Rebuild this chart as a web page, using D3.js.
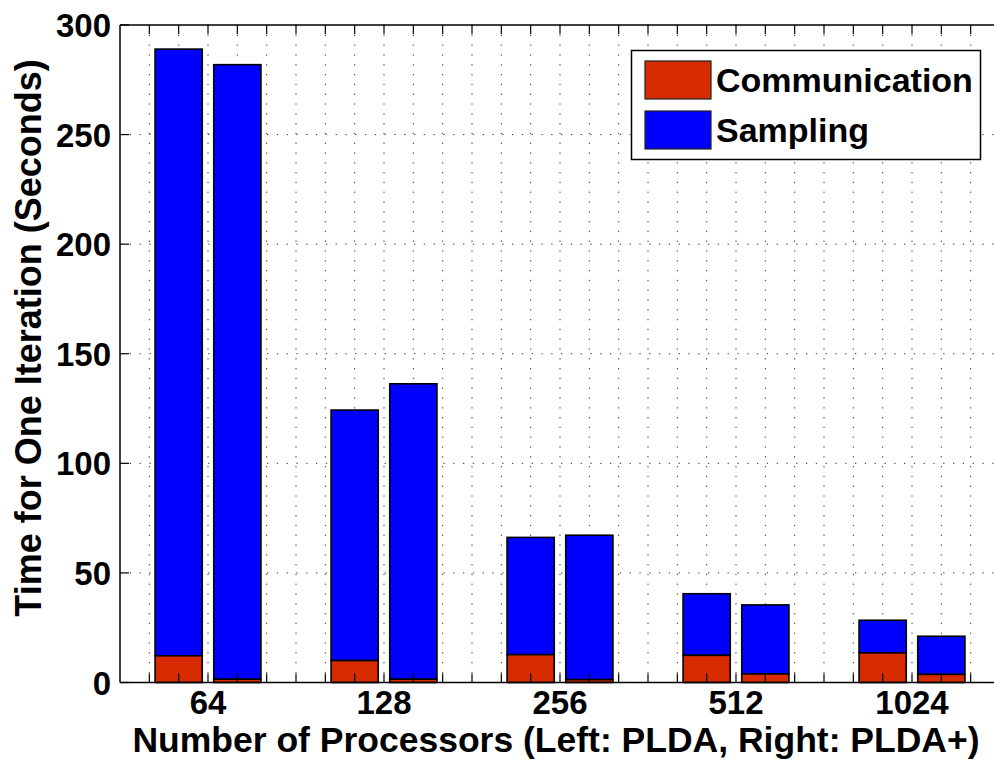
<!DOCTYPE html>
<html>
<head>
<meta charset="utf-8">
<script src="https://cdn.jsdelivr.net/npm/d3@7"></script>
<style>
  html, body { margin: 0; padding: 0; background: #fff; }
  svg { display: block; }
  text { font-family: "Liberation Sans", Arial, Helvetica, sans-serif; font-weight: bold; fill: #000; }
</style>
</head>
<body>
<svg id="chart" width="994" height="760"></svg>
<script>
// ---- data ----
const categories = ["64", "128", "256", "512", "1024"];
const seriesNames = ["Communication", "Sampling"];
// Left bars: PLDA
const pldaCommunication = [12.2, 10.0, 12.7, 12.4, 13.5];
const pldaSampling      = [276.8, 114.3, 53.5, 28.1, 14.9];
// Right bars: PLDA+
const pldaPlusCommunication = [1.5, 1.5, 1.3, 3.9, 3.7];
const pldaPlusSampling      = [280.4, 134.8, 65.9, 31.5, 17.4];
const yTicks = [0, 50, 100, 150, 200, 250, 300];
const xLabel = "Number of Processors (Left: PLDA, Right: PLDA+)";
const yLabel = "Time for One Iteration (Seconds)";

(function () {
// ---- layout ----
const colors = { Communication: "#d92b00", Sampling: "#0000ff" };
const pL = 120, pR = 1000, pT = 25, pB = 682.5;
const svg = d3.select("#chart");

const x = d3.scaleLinear().domain([0.5, categories.length + 0.5]).range([pL, pR]);
const y = d3.scaleLinear().domain([0, 300]).range([pB, pT]);

const barOffset = 1 / 6, barWidth = 0.268;

// grid
const gridX = d3.range(1, 30).map(k => 0.5 + k / 6);
const gridG = svg.append("g");
gridG.selectAll("line.gx").data(gridX).join("line")
  .attr("x1", d => x(d)).attr("x2", d => x(d))
  .attr("y1", pT).attr("y2", pB)
  .attr("stroke", "#333").attr("stroke-width", 1)
  .attr("stroke-dasharray", "1.3,8.5");
gridG.selectAll("line.gy").data(yTicks.slice(1, -1)).join("line")
  .attr("x1", pL).attr("x2", pR)
  .attr("y1", d => y(d)).attr("y2", d => y(d))
  .attr("stroke", "#333").attr("stroke-width", 1)
  .attr("stroke-dasharray", "1.3,8.5");

// bars
const bars = [];
categories.forEach((c, i) => {
  const g = i + 1;
  bars.push({ xc: g - barOffset, comm: pldaCommunication[i], samp: pldaSampling[i] });
  bars.push({ xc: g + barOffset, comm: pldaPlusCommunication[i], samp: pldaPlusSampling[i] });
});
const barG = svg.append("g");
bars.forEach(b => {
  const x0 = x(b.xc - barWidth / 2), w = x(b.xc + barWidth / 2) - x0;
  barG.append("rect")
    .attr("x", x0).attr("width", w)
    .attr("y", y(b.comm + b.samp)).attr("height", y(b.comm) - y(b.comm + b.samp))
    .attr("fill", colors.Sampling).attr("stroke", "#000").attr("stroke-width", 1.6);
  barG.append("rect")
    .attr("x", x0).attr("width", w)
    .attr("y", y(b.comm)).attr("height", y(0) - y(b.comm))
    .attr("fill", colors.Communication).attr("stroke", "#000").attr("stroke-width", 1.6);
});

// axes box
const tickLen = 9;
const axG = svg.append("g").attr("stroke", "#000").attr("stroke-width", 1.5);
axG.append("line").attr("x1", pL).attr("x2", pR).attr("y1", pT).attr("y2", pT);
axG.append("line").attr("x1", pL).attr("x2", pR).attr("y1", pB).attr("y2", pB);
axG.append("line").attr("x1", pL).attr("x2", pL).attr("y1", pT).attr("y2", pB);
axG.append("line").attr("x1", pR).attr("x2", pR).attr("y1", pT).attr("y2", pB);
gridX.forEach(d => {
  axG.append("line").attr("x1", x(d)).attr("x2", x(d)).attr("y1", pB).attr("y2", pB - tickLen).attr("stroke-width", 1.2);
  axG.append("line").attr("x1", x(d)).attr("x2", x(d)).attr("y1", pT).attr("y2", pT + tickLen).attr("stroke-width", 1.2);
});
yTicks.forEach(d => {
  axG.append("line").attr("x1", pL).attr("x2", pL + tickLen).attr("y1", y(d)).attr("y2", y(d)).attr("stroke-width", 1.2);
});

// y tick labels
svg.append("g").selectAll("text").data(yTicks).join("text")
  .attr("x", pL - 9).attr("y", d => y(d) + 12)
  .attr("text-anchor", "end").attr("font-size", 33)
  .text(d => d);

// x tick labels
svg.append("g").selectAll("text").data(categories).join("text")
  .attr("x", (d, i) => x(i + 1)).attr("y", 714)
  .attr("text-anchor", "middle").attr("font-size", 33)
  .text(d => d);

// axis labels
svg.append("text").attr("x", 556).attr("y", 752)
  .attr("text-anchor", "middle").attr("font-size", 35.5).text(xLabel);
svg.append("text").attr("transform", "translate(41,338) rotate(-90)")
  .attr("text-anchor", "middle").attr("font-size", 36).text(yLabel);

// legend
const lg = svg.append("g");
lg.append("rect").attr("x", 631.5).attr("y", 50.5).attr("width", 349).attr("height", 109)
  .attr("fill", "#fff").attr("stroke", "#000").attr("stroke-width", 1.5);
seriesNames.forEach((s, i) => {
  const yy = 61 + i * 50;
  lg.append("rect").attr("x", 645).attr("y", yy).attr("width", 66).attr("height", 38)
    .attr("fill", colors[s]).attr("stroke", "#222").attr("stroke-width", 1.2);
  lg.append("text").attr("x", 716).attr("y", yy + 31).attr("font-size", 34).text(s);
});
})();
</script>
</body>
</html>
